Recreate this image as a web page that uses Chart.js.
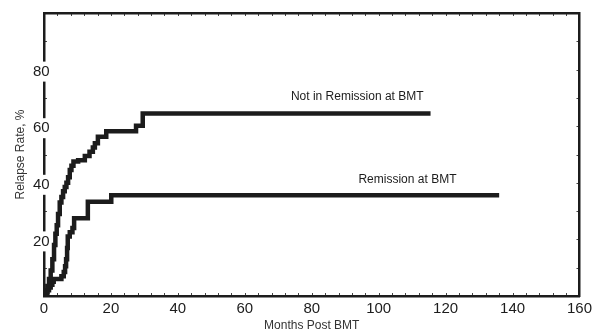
<!DOCTYPE html>
<html lang="en">
<head>
    <meta charset="UTF-8">
    <title>Relapse Rate</title>
    <script src="https://cdn.jsdelivr.net/npm/chart.js"></script>
    <style>
        html, body { margin: 0; padding: 0; background: #fff; }
        #wrap { width: 596px; height: 331px; }
    </style>
</head>
<body>
    <div id="wrap"><canvas id="relapseChart"></canvas></div>

    <script>
        // months post BMT where the curve steps up, and the rate after the step
        const notRemMonths = [0, 0.5, 1, 1.5, 2, 2.5, 3, 3.4, 3.8, 4.2, 4.7, 5.2, 5.7, 6.2, 6.7, 7.2, 7.7, 8.2, 8.8, 10.2, 12.2, 13.6, 14.6, 15.2, 16.1, 18.6, 27.5, 29.5, 115.5];
        const notRemRate   = [0, 1.5, 3.5, 6, 9, 13, 18, 22, 25, 29, 33, 35, 37, 38.5, 40, 42, 44.5, 46, 47.5, 48, 49.5, 51, 52.5, 54, 56.3, 58.2, 60.2, 64.5, 64.5];

        const remMonths = [0, 0.5, 1, 1.5, 2, 2.5, 2.9, 5.2, 5.9, 6.3, 6.6, 6.9, 7.1, 7.7, 8.5, 9, 13.1, 20.1, 136];
        const remRate   = [0, 1, 2, 3, 4, 5, 6, 7, 8.5, 10.5, 13, 17, 21, 22.5, 24, 27.5, 33.3, 35.6, 35.6];

        const xTickValues = [0, 20, 40, 60, 80, 100, 120, 140, 160];
        const yTickValues = [20, 40, 60, 80];

        const curveNames = ['Not in Remission at BMT', 'Remission at BMT'];
        // where the curve names sit, in data units
        const namePos = [[93.6, 70.3], [108.6, 41]];

        const FONT = "'Liberation Sans', Arial, sans-serif";
        const INK = '#1c1c1c';

        const toPoints = (xs, ys) => xs.map((x, i) => ({ x: x, y: ys[i] }));

        // small inward tick marks on all four sides of the frame
        const frameTicks = {
            id: 'frameTicks',
            beforeDraw(chart) {
                const { ctx, chartArea: a, scales } = chart;
                ctx.save();
                ctx.strokeStyle = '#444';
                ctx.lineWidth = 1;
                ctx.beginPath();
                for (let v = 4; v < 160; v += 4) {
                    const px = Math.round(scales.x.getPixelForValue(v)) + 0.5;
                    ctx.moveTo(px, a.bottom); ctx.lineTo(px, a.bottom - 3);
                    ctx.moveTo(px, a.top); ctx.lineTo(px, a.top + 3);
                }
                for (let v = 10; v < 100; v += 10) {
                    const py = Math.round(scales.y.getPixelForValue(v)) + 0.5;
                    ctx.moveTo(a.left, py); ctx.lineTo(a.left + 3, py);
                    ctx.moveTo(a.right, py); ctx.lineTo(a.right - 3, py);
                }
                ctx.stroke();
                ctx.restore();
            },
            afterDatasetsDraw(chart) {
                const { ctx, scales } = chart;
                ctx.save();
                ctx.font = '12px ' + FONT;
                ctx.fillStyle = INK;
                ctx.textAlign = 'center';
                ctx.textBaseline = 'middle';
                curveNames.forEach((name, i) => {
                    ctx.fillText(name, scales.x.getPixelForValue(namePos[i][0]), scales.y.getPixelForValue(namePos[i][1]));
                });
                ctx.restore();
            }
        };

        const ctx = document.getElementById('relapseChart').getContext('2d');
        new Chart(ctx, {
            type: 'line',
            data: {
                datasets: [
                    { label: curveNames[0], data: toPoints(notRemMonths, notRemRate), stepped: true, borderColor: INK, borderWidth: 4.5, pointRadius: 0, fill: false },
                    { label: curveNames[1], data: toPoints(remMonths, remRate), stepped: true, borderColor: INK, borderWidth: 4.5, pointRadius: 0, fill: false }
                ]
            },
            options: {
                responsive: true,
                maintainAspectRatio: false,
                animation: false,
                layout: { padding: { top: 13, right: 13, left: 0, bottom: 0 } },
                plugins: { legend: { display: false }, tooltip: { enabled: false } },
                scales: {
                    x: {
                        type: 'linear', min: 0, max: 160,
                        afterBuildTicks: s => { s.ticks = xTickValues.map(v => ({ value: v })); },
                        afterFit: s => { s.height = 35; },
                        grid: { display: false, drawTicks: false },
                        border: { display: true, color: INK, width: 2.5 },
                        ticks: { color: INK, padding: 4, maxRotation: 0, autoSkip: false, font: { family: FONT, size: 15 } },
                        title: { display: true, text: 'Months Post BMT', color: '#333', padding: { top: 0, bottom: -2 }, font: { family: FONT, size: 12 } }
                    },
                    y: {
                        type: 'linear', min: 0, max: 100,
                        afterBuildTicks: s => { s.ticks = yTickValues.map(v => ({ value: v })); },
                        afterFit: s => { s.width = 44; },
                        grid: { display: false, drawTicks: false },
                        border: { display: true, color: INK, width: 2.5 },
                        ticks: {
                            color: INK, mirror: true, padding: -11, labelOffset: 2, font: { family: FONT, size: 15 },
                            showLabelBackdrop: true, backdropColor: '#fff', backdropPadding: { top: 1, bottom: 1, left: 1, right: 1 }
                        },
                        title: { display: true, text: 'Relapse Rate, %', color: '#333', padding: { top: 13, bottom: 0 }, font: { family: FONT, size: 12 } }
                    },
                    x2: {
                        type: 'linear', position: 'top', min: 0, max: 160,
                        grid: { display: false, drawTicks: false },
                        border: { display: true, color: INK, width: 2.5 },
                        ticks: { display: false }
                    },
                    y2: {
                        type: 'linear', position: 'right', min: 0, max: 100,
                        grid: { display: false, drawTicks: false },
                        border: { display: true, color: INK, width: 2.5 },
                        ticks: { display: false }
                    }
                }
            },
            plugins: [frameTicks]
        });
    </script>
</body>
</html>
